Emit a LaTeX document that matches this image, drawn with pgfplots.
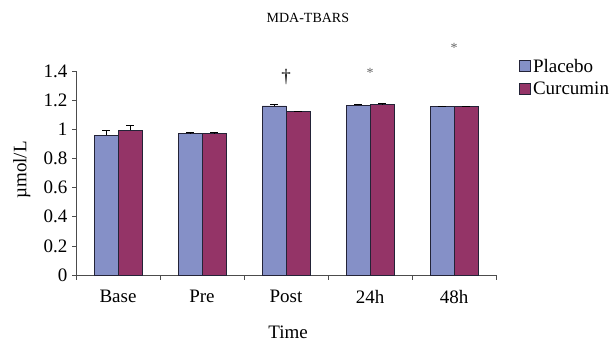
\documentclass[border=0pt]{standalone}
\usepackage{fontspec}
\setmainfont{Liberation Serif}
\usepackage{pgfplots}
\pgfplotsset{compat=1.18}
\definecolor{plac}{RGB}{133,144,199}
\definecolor{curc}{RGB}{148,52,103}
\definecolor{edge}{RGB}{35,35,55}
\begin{document}
\begin{tikzpicture}
\begin{axis}[
  scale only axis, width=420pt, height=204pt,
  xmin=-0.5, xmax=4.5, ymin=0, ymax=1.4,
  clip=false,
  axis x line*=bottom, axis y line*=left,
  axis line style={draw=black!70, -, line width=0.6pt},
  ybar, bar width=24pt,
  xtick={0,1,2,3,4}, xticklabels={Base,Pre,Post,24h,48h},
  minor xtick={-0.5,0.5,...,4.5},
  ytick={0,0.2,0.4,0.6,0.8,1,1.2,1.4},
  yticklabels={0,0.2,0.4,0.6,0.8,1,1.2,1.4},
  tick align=outside,
  major tick length=4pt, minor tick length=5pt,
  major x tick style={draw=none},
  tick style={black!70, line width=0.6pt},
  /pgf/number format/assume math mode=true,
  tick label style={font=\fontsize{19}{22}\selectfont},
  yticklabel style={xshift=-1pt},
  xticklabel style={yshift=-8pt},
  legend image code/.code={\draw[#1] (0pt,-5.5pt) rectangle (11pt,5.5pt);},
  legend style={draw=none, fill=none, at={(rel axis cs:1.05,1.08)}, anchor=north west,
    font=\fontsize{19}{22}\selectfont, row sep=4pt, inner sep=2pt,
    /tikz/every even column/.append style={column sep=2pt}},
  legend cell align=left,
]
\addplot[fill=plac, draw=edge, line width=0.8pt, bar shift=-12pt,
  error bars/.cd, y dir=plus, y explicit,
  error bar style={black, line width=0.9pt},
  error mark options={rotate=90, mark size=4pt, black, line width=0.9pt}]
  coordinates {(0,0.96) +- (0,0.035) (1,0.97) +- (0,0.01) (2,1.16) +- (0,0.01)
               (3,1.165) +- (0,0.007) (4,1.155) +- (0,0.005)};
\addlegendentry{Placebo}
\addplot[fill=curc, draw=edge, line width=0.8pt, bar shift=12pt,
  error bars/.cd, y dir=plus, y explicit,
  error bar style={black, line width=0.9pt},
  error mark options={rotate=90, mark size=4pt, black, line width=0.9pt}]
  coordinates {(0,0.995) +- (0,0.03) (1,0.97) +- (0,0.005) (2,1.12) +- (0,0.005)
               (3,1.17) +- (0,0.01) (4,1.155) +- (0,0.002)};
\addlegendentry{Curcumin}
\node[font=\fontsize{14}{16}\selectfont] at (rel axis cs:0.552,1.26) {MDA-TBARS};
\node[rotate=90, font=\fontsize{19}{22}\selectfont] at (rel axis cs:-0.129,0.515) {µmol/L};
\node[font=\fontsize{19}{22}\selectfont] at (rel axis cs:0.505,-0.28) {Time};
\node[font=\fontsize{19}{22}\selectfont] at (axis cs:2,1.36) {†};
\node[font=\fontsize{14}{16}\selectfont, text=black!60] at (axis cs:3,1.385) {*};
\node[font=\fontsize{14}{16}\selectfont, text=black!60] at (axis cs:4,1.555) {*};
\path (rel axis cs:-0.181,-0.343) rectangle (rel axis cs:1.2857,1.348);
\end{axis}
\end{tikzpicture}
\end{document}
